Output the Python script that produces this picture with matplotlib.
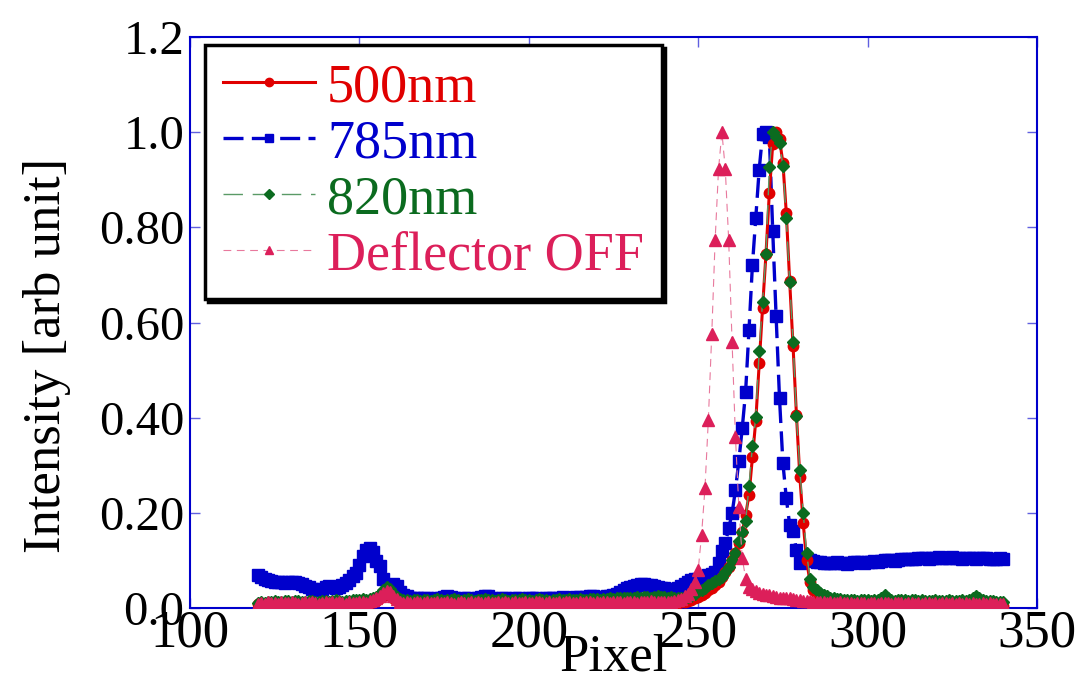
import numpy as np
import matplotlib.pyplot as plt

plt.rcParams['font.family'] = ['Liberation Serif', 'DejaVu Serif']

# pixel axis, 120..340
pixel = np.arange(120, 341)

# 500nm
i_500 = [
    0.008, 0.006, 0.005, 0.007, 0.006, 0.005, 0.007, 0.008, 0.006, 0.005,
    0.006, 0.007, 0.005, 0.006, 0.008, 0.007, 0.005, 0.006, 0.007, 0.006,
    0.005, 0.006, 0.008, 0.007, 0.006, 0.005, 0.007, 0.006, 0.008, 0.009,
    0.008, 0.007, 0.009, 0.010, 0.012, 0.015, 0.020, 0.026, 0.030, 0.028,
    0.022, 0.015, 0.010, 0.008, 0.007, 0.006, 0.008, 0.007, 0.006, 0.005,
    0.006, 0.007, 0.005, 0.006, 0.008, 0.007, 0.006, 0.005, 0.007, 0.006,
    0.005, 0.006, 0.007, 0.008, 0.006, 0.005, 0.006, 0.007, 0.006, 0.005,
    0.007, 0.006, 0.005, 0.006, 0.008, 0.007, 0.006, 0.005, 0.006, 0.007,
    0.006, 0.005, 0.007, 0.006, 0.005, 0.006, 0.008, 0.007, 0.006, 0.005,
    0.006, 0.007, 0.006, 0.005, 0.007, 0.008, 0.006, 0.005, 0.006, 0.007,
    0.006, 0.007, 0.008, 0.006, 0.007, 0.008, 0.009, 0.008, 0.007, 0.008,
    0.009, 0.010, 0.009, 0.008, 0.009, 0.010, 0.009, 0.008, 0.009, 0.010,
    0.009, 0.010, 0.011, 0.010, 0.011, 0.012, 0.013, 0.015, 0.017, 0.020,
    0.023, 0.027, 0.032, 0.038, 0.043, 0.048, 0.055, 0.065, 0.075, 0.087,
    0.100, 0.115, 0.136, 0.159, 0.195, 0.238, 0.317, 0.394, 0.514, 0.631,
    0.743, 0.873, 0.975, 1.000, 0.985, 0.936, 0.831, 0.687, 0.550, 0.406,
    0.276, 0.178, 0.100, 0.055, 0.038, 0.030, 0.024, 0.020, 0.016, 0.014,
    0.012, 0.011, 0.010, 0.011, 0.009, 0.010, 0.011, 0.009, 0.008, 0.010,
    0.009, 0.010, 0.008, 0.009, 0.010, 0.011, 0.009, 0.008, 0.009, 0.010,
    0.008, 0.009, 0.010, 0.008, 0.009, 0.007, 0.008, 0.009, 0.008, 0.007,
    0.008, 0.009, 0.007, 0.008, 0.007, 0.006, 0.008, 0.007, 0.006, 0.007,
    0.006, 0.007, 0.006, 0.005, 0.006, 0.007, 0.005, 0.004, 0.006, 0.005,
    0.004,
]

# 785nm
i_785 = [
    0.070, 0.066, 0.062, 0.058, 0.056, 0.055, 0.055, 0.054, 0.053, 0.054,
    0.055, 0.054, 0.052, 0.050, 0.047, 0.044, 0.040, 0.038, 0.037, 0.040,
    0.044, 0.046, 0.045, 0.043, 0.045, 0.048, 0.052, 0.058, 0.068, 0.074,
    0.090, 0.110, 0.122, 0.126, 0.118, 0.098, 0.088, 0.060, 0.042, 0.046,
    0.050, 0.046, 0.034, 0.028, 0.025, 0.022, 0.021, 0.020, 0.019, 0.020,
    0.021, 0.019, 0.018, 0.020, 0.022, 0.024, 0.025, 0.023, 0.020, 0.018,
    0.019, 0.021, 0.020, 0.019, 0.018, 0.020, 0.024, 0.026, 0.025, 0.022,
    0.019, 0.018, 0.020, 0.021, 0.019, 0.018, 0.020, 0.022, 0.019, 0.018,
    0.020, 0.021, 0.020, 0.019, 0.018, 0.021, 0.022, 0.020, 0.019, 0.021,
    0.023, 0.022, 0.020, 0.021, 0.023, 0.024, 0.022, 0.023, 0.025, 0.026,
    0.024, 0.022, 0.023, 0.025, 0.026, 0.028, 0.030, 0.034, 0.038, 0.042,
    0.045, 0.047, 0.049, 0.050, 0.050, 0.049, 0.048, 0.047, 0.045, 0.043,
    0.041, 0.040, 0.038, 0.040, 0.042, 0.046, 0.050, 0.054, 0.058, 0.060,
    0.062, 0.064, 0.066, 0.069, 0.072, 0.076, 0.094, 0.119, 0.136, 0.168,
    0.199, 0.248, 0.309, 0.378, 0.455, 0.585, 0.720, 0.820, 0.921, 0.996,
    1.000, 0.990, 0.792, 0.613, 0.441, 0.305, 0.231, 0.175, 0.161, 0.122,
    0.094, 0.106, 0.104, 0.100, 0.098, 0.097, 0.096, 0.095, 0.094, 0.095,
    0.094, 0.096, 0.095, 0.094, 0.093, 0.095, 0.096, 0.097, 0.096, 0.095,
    0.096, 0.097, 0.098, 0.097, 0.098, 0.100, 0.101, 0.100, 0.099, 0.101,
    0.102, 0.103, 0.104, 0.103, 0.104, 0.105, 0.106, 0.105, 0.104, 0.105,
    0.106, 0.107, 0.106, 0.105, 0.106, 0.107, 0.106, 0.105, 0.104, 0.105,
    0.106, 0.105, 0.104, 0.105, 0.106, 0.105, 0.104, 0.103, 0.104, 0.105,
    0.103,
]

# 820nm
i_820 = [
    0.010, 0.012, 0.011, 0.013, 0.012, 0.014, 0.013, 0.012, 0.015, 0.014,
    0.013, 0.015, 0.014, 0.012, 0.013, 0.015, 0.014, 0.013, 0.012, 0.014,
    0.015, 0.013, 0.014, 0.016, 0.015, 0.013, 0.014, 0.015, 0.016, 0.017,
    0.016, 0.018, 0.017, 0.019, 0.021, 0.024, 0.030, 0.038, 0.045, 0.040,
    0.032, 0.024, 0.019, 0.017, 0.016, 0.015, 0.016, 0.017, 0.015, 0.016,
    0.017, 0.015, 0.016, 0.018, 0.017, 0.015, 0.016, 0.017, 0.018, 0.016,
    0.015, 0.017, 0.018, 0.016, 0.015, 0.017, 0.016, 0.018, 0.017, 0.016,
    0.015, 0.016, 0.018, 0.017, 0.015, 0.016, 0.017, 0.016, 0.018, 0.017,
    0.016, 0.015, 0.017, 0.018, 0.016, 0.017, 0.015, 0.016, 0.017, 0.018,
    0.016, 0.017, 0.018, 0.016, 0.017, 0.018, 0.017, 0.016, 0.018, 0.019,
    0.018, 0.017, 0.019, 0.018, 0.020, 0.019, 0.021, 0.020, 0.022, 0.021,
    0.022, 0.021, 0.023, 0.022, 0.024, 0.023, 0.022, 0.024, 0.025, 0.023,
    0.024, 0.022, 0.023, 0.022, 0.021, 0.022, 0.023, 0.024, 0.025, 0.030,
    0.035, 0.038, 0.043, 0.048, 0.052, 0.056, 0.061, 0.066, 0.076, 0.087,
    0.100, 0.115, 0.140, 0.160, 0.182, 0.257, 0.340, 0.401, 0.540, 0.644,
    0.743, 0.926, 1.000, 0.990, 0.978, 0.930, 0.820, 0.686, 0.559, 0.403,
    0.290, 0.200, 0.115, 0.062, 0.045, 0.038, 0.032, 0.028, 0.025, 0.022,
    0.020, 0.019, 0.018, 0.017, 0.016, 0.017, 0.016, 0.015, 0.016, 0.017,
    0.016, 0.015, 0.017, 0.016, 0.022, 0.027, 0.021, 0.016, 0.015, 0.016,
    0.017, 0.016, 0.015, 0.016, 0.017, 0.015, 0.016, 0.015, 0.014, 0.015,
    0.016, 0.015, 0.014, 0.015, 0.016, 0.015, 0.014, 0.015, 0.016, 0.015,
    0.016, 0.020, 0.026, 0.021, 0.016, 0.014, 0.015, 0.014, 0.013, 0.012,
    0.012,
]

# Deflector OFF
i_off = [
    0.008, 0.010, 0.009, 0.012, 0.010, 0.011, 0.009, 0.012, 0.010, 0.011,
    0.012, 0.010, 0.009, 0.011, 0.013, 0.010, 0.012, 0.011, 0.009, 0.010,
    0.012, 0.011, 0.013, 0.010, 0.012, 0.011, 0.009, 0.012, 0.010, 0.011,
    0.012, 0.013, 0.011, 0.014, 0.016, 0.020, 0.026, 0.032, 0.036, 0.034,
    0.026, 0.018, 0.013, 0.011, 0.012, 0.010, 0.011, 0.012, 0.010, 0.011,
    0.012, 0.010, 0.011, 0.013, 0.011, 0.010, 0.012, 0.011, 0.009, 0.011,
    0.012, 0.010, 0.011, 0.012, 0.010, 0.013, 0.011, 0.010, 0.012, 0.011,
    0.010, 0.012, 0.011, 0.013, 0.010, 0.011, 0.012, 0.010, 0.011, 0.012,
    0.011, 0.010, 0.012, 0.013, 0.011, 0.010, 0.012, 0.011, 0.010, 0.012,
    0.011, 0.013, 0.012, 0.010, 0.011, 0.012, 0.011, 0.013, 0.012, 0.011,
    0.012, 0.011, 0.013, 0.012, 0.011, 0.012, 0.013, 0.012, 0.011, 0.013,
    0.012, 0.013, 0.011, 0.012, 0.013, 0.012, 0.014, 0.012, 0.013, 0.012,
    0.012, 0.013, 0.012, 0.014, 0.016, 0.018, 0.025, 0.030, 0.040, 0.055,
    0.080, 0.154, 0.252, 0.396, 0.575, 0.773, 0.922, 1.000, 0.922, 0.773,
    0.559, 0.359, 0.213, 0.105, 0.062, 0.045, 0.040, 0.035, 0.032, 0.030,
    0.028, 0.027, 0.025, 0.024, 0.022, 0.022, 0.020, 0.020, 0.018, 0.017,
    0.016, 0.015, 0.014, 0.015, 0.013, 0.012, 0.013, 0.012, 0.011, 0.012,
    0.011, 0.010, 0.012, 0.011, 0.010, 0.011, 0.009, 0.010, 0.011, 0.010,
    0.009, 0.011, 0.010, 0.009, 0.010, 0.011, 0.010, 0.009, 0.010, 0.011,
    0.010, 0.009, 0.011, 0.010, 0.009, 0.010, 0.009, 0.011, 0.010, 0.009,
    0.010, 0.009, 0.010, 0.011, 0.009, 0.010, 0.009, 0.010, 0.009, 0.010,
    0.009, 0.010, 0.009, 0.008, 0.010, 0.009, 0.010, 0.009, 0.008, 0.009,
    0.008,
]

xticks = [100, 150, 200, 250, 300, 350]
yticks = [0.0, 0.2, 0.4, 0.6, 0.8, 1.0, 1.2]
yticklabels = ['0.0', '0.20', '0.40', '0.60', '0.80', '1.0', '1.2']

c_red = '#e00000'
c_blue = '#0000cc'
c_green = '#0b6b1f'
c_pink = '#dc1f5a'

fig = plt.figure(figsize=(10.82, 6.82), dpi=100)
ax = fig.add_axes([0.1756, 0.1085, 0.7828, 0.8372])

l785, = ax.plot(pixel, i_785, color=c_blue, lw=2.4, dashes=(6, 2.5),
                marker='s', ms=8, mec=c_blue, mfc=c_blue, label='785nm', zorder=2)
l500, = ax.plot(pixel, i_500, color=c_red, lw=2.2, marker='o', ms=7.5,
                mec=c_red, mfc=c_red, label='500nm', zorder=3)
l820, = ax.plot(pixel, i_820, color='#5a9a66', lw=1, dashes=(14, 7),
                marker='D', ms=6.3, mec=c_green, mfc=c_green, label='820nm', zorder=4)
loff, = ax.plot(pixel, i_off, color='#e8799d', lw=0.8, dashes=(7, 5),
                marker='^', ms=8, mec=c_pink, mfc=c_pink, label='Deflector OFF', zorder=5)

ax.set_xlim(100, 350)
ax.set_ylim(0, 1.2)
ax.set_xticks(xticks)
ax.set_yticks(yticks)
ax.set_yticklabels(yticklabels)
ax.tick_params(direction='in', top=True, right=True, length=7, width=1,
               color='#6060e0', labelsize=35, pad=4)
ax.tick_params(axis='x', labelsize=38, pad=1)
for s in ax.spines.values():
    s.set_color(c_blue)
    s.set_linewidth(1.5)

ax.set_xlabel('Pixel', fontsize=38)
ax.xaxis.set_label_coords(0.5, -0.045)
ax.set_ylabel('Intensity [arb unit]', fontsize=38)
ax.yaxis.set_label_coords(-0.14, 0.443)

leg = ax.legend(handles=[l500, l785, l820, loff], loc='upper left',
                bbox_to_anchor=(0.018, 0.986), borderaxespad=0, fontsize=39,
                numpoints=1, markerscale=0.8, handlelength=1.7, handletextpad=0.22,
                labelspacing=0.1, borderpad=0.33, fancybox=False,
                shadow={'color': 'black', 'alpha': 1})
leg.get_frame().set_edgecolor('black')
leg.get_frame().set_linewidth(2.5)
for t, c in zip(leg.get_texts(), [c_red, c_blue, c_green, c_pink]):
    t.set_color(c)

plt.savefig('out.png', dpi=100)
